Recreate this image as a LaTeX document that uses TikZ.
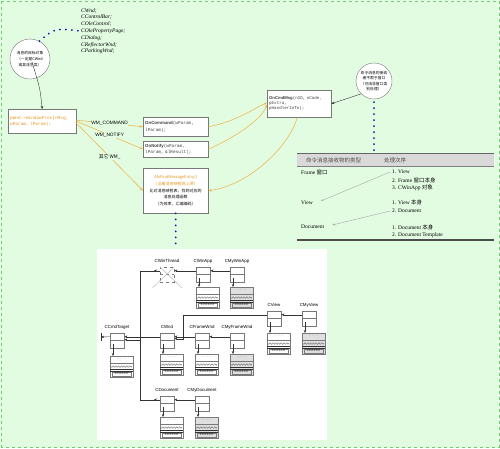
\documentclass[tikz,border=0pt]{standalone}
\usepackage{fontspec}
\setmainfont{Liberation Serif}
\setsansfont{Liberation Sans}
\setmonofont{Liberation Mono}
\newfontfamily\cjk{Noto Sans CJK SC}
\usepackage{xcolor}
\usepackage{tikz}
\usetikzlibrary{arrows.meta,positioning}
\definecolor{bggreen}{RGB}{226,252,226}
\definecolor{framegreen}{RGB}{120,200,120}
\definecolor{accentorange}{RGB}{230,150,30}
\definecolor{lineorange}{RGB}{240,184,80}
\definecolor{dotblue}{RGB}{10,20,170}
\definecolor{edgegray}{RGB}{120,120,120}

% data block below a class box
\newcommand\datablock[4]{%
  \node[datbox,fill=#4] (#1-data) at (#2,#3) {};
  \draw[edgegray] ([yshift=-7pt]#1-data.north west) -- ([yshift=-7pt]#1-data.north east);
  \node[font=\fontsize{3}{3}\selectfont,inner sep=0pt] (#1-dots) at (#2+11.5,#3+3) {. . . . . .};
  \draw[black!70,line width=0.3pt] plot[domain=0:21,samples=43] ({#2+1+\x},{#3+10.5+0.8*sin(\x*130)});
  \draw[black!80,line width=0.4pt] (#2,#3+13.6) -- ++(23,0) (#2,#3+14.8) -- ++(23,0);
  \draw[edgegray,line width=0.3pt] (#2+2,#3+16) rectangle ++(19,4);
  \node[font=\fontsize{2.8}{3}\sffamily,inner sep=0pt] (#1-nums) at (#2+11.5,#3+18) {0.0.0.0.0.0};
}
% class box, its name and its data block
\newcommand\mfcclass[6]{%
  \node[clsbox] (#1) at (#2,#3) {};
  \draw[edgegray] (#2,#3+7) -- ++(14,0);
  \node[clslab] (#1-lab) at (#2+7,#3-6) {#4};
  \datablock{#1}{#2}{#5}{#6}
  \draw[arr] ([xshift=3pt,yshift=4pt]#1.south west) -- ([xshift=3pt]#1-data.north west);
}

\begin{document}
\begin{tikzpicture}[x=1pt,y=-1pt,
  box/.style={rectangle,draw=edgegray,fill=white,anchor=north west,inner sep=2pt,
              text=black!75,font=\fontsize{4.4}{6.4}\ttfamily},
  bubble/.style={circle,draw=edgegray,fill=white,inner sep=0pt,align=center,
                 font=\fontsize{3.8}{5.6}\cjk},
  clsbox/.style={rectangle,draw=edgegray,fill=white,anchor=north west,
                 minimum width=14pt,minimum height=15pt,inner sep=0pt},
  datbox/.style={rectangle,draw=edgegray,anchor=north west,
                 minimum width=23pt,minimum height=21pt,inner sep=0pt},
  clslab/.style={font=\fontsize{4.4}{5}\sffamily,inner sep=0pt},
  cell/.style={anchor=west,inner sep=0pt,font=\fontsize{5.5}{6}\selectfont},
  wmlab/.style={font=\fontsize{4.8}{5}\sffamily,fill=bggreen,text=black,inner sep=0.4pt},
  arr/.style={-{Stealth[length=3pt,width=2.4pt]},black!80},
  oarr/.style={-{Stealth[length=3.4pt,width=2.8pt]},draw=lineorange,line width=0.6pt},
  bluedots/.style={dotblue,line width=2pt,line cap=round,dash pattern=on 0pt off 6pt},
  tarr/.style={-{Stealth[length=2.6pt,width=2pt]},gray!70}]
  \fill[bggreen] (0,0) rectangle (500,448);
  \draw[framegreen,dashed,line width=0.6pt] (1.2,1.2) rectangle (498.8,446.8);
  \useasboundingbox (0,0) rectangle (500,448);

  % message side
  \node[bubble,minimum size=40pt] (target) at (30,59) {消息的目标对象\\（一定是CWnd\\或其派生类）};
  \node[anchor=north west,inner sep=0pt,align=left,font=\fontsize{5.5}{6.8}\selectfont\itshape]
    (wndlist) at (81,8) {CWnd;\\CControlBar;\\COleControl;\\COlePropertyPage;\\CDialog;\\CReflectorWnd;\\CParkingWnd;};
  \draw[bluedots] (target.62) .. controls (55,28) .. (wndlist.west);
  \node[box,text width=64pt,minimum height=24pt,align=left,text=accentorange] (winproc) at (8,109)
    {pWnd->WindowProc(nMsg,\\wParam, lParam);};
  \draw[arr] ([xshift=2pt,yshift=-3pt]target.center) .. controls (40,88) .. (winproc.north);

  \node[box,text width=61pt,minimum height=19pt,align=left] (oncommand) at (143,117)
    {\textsf{\bfseries OnCommand}(wParam,\\lParam);};
  \node[box,text width=61pt,minimum height=16pt,align=left] (onnotify) at (143,141)
    {\textsf{\bfseries OnNotify}(wParam,\\lParam, \&lResult);};
  \node[box,text width=61pt,minimum height=45pt,align=center,text=black,font=\fontsize{4}{6.8}\cjk] (afx) at (143,168)
    {\textcolor{accentorange}{AfxFindMessageEntry()}\\\textcolor{accentorange}{（沿着消息映射网上溯）}\\比对消息映射表，找到对应的\\消息处理函数\\（为效率，汇编编码）};
  \node[box,text width=60pt,minimum height=27pt,align=left,font=\fontsize{4.2}{5.2}\ttfamily] (oncmdmsg) at (267,90)
    {\textsf{\bfseries OnCmdMsg}(nID, nCode,\\pExtra,\\pHandlerInfo);};

  \draw[oarr] ([yshift=1pt]winproc.east) -- node[wmlab]{WM\_COMMAND} (oncommand.west);
  \draw[oarr] (winproc.east) -- node[wmlab]{WM\_NOTIFY} (onnotify.west);
  \draw[oarr] ([yshift=-2pt]winproc.east) -- node[wmlab]{\cjk{其它} WM\_} (afx.west);
  \draw[oarr] (oncommand.east) .. controls (235,122) and (255,108) .. ([yshift=1pt]oncmdmsg.west);
  \draw[oarr] (onnotify.east) .. controls (240,135) and (262,118) .. ([yshift=-1pt]oncmdmsg.west);
  \draw[oarr] ([xshift=-2pt]oncmdmsg.south) .. controls (290,145) and (250,185) .. (afx.east);

  \node[bubble,minimum size=36pt] (router) at (374,81) {命令消息的接收\\者不限于窗口\\（可由非窗口类\\别处理）};
  \draw[arr] (router.225) -- (oncmdmsg.east);

  % routing table
  \node[fill=gray!30,anchor=north west,minimum width=197pt,minimum height=13pt,inner sep=0pt] (tablehead) at (297,153) {};
  \draw[black!60,line width=0.6pt] (tablehead.north west) -- (tablehead.north east);
  \draw[gray] (tablehead.south west) -- (tablehead.south east);
  \coordinate (tablefoot) at (297,239);
  \draw[black!70,line width=0.4pt] (tablefoot) -- ++(197,0) ([yshift=-1.5pt]tablefoot) -- ++(197,0);
  \draw[bluedots,shorten <=3pt] (router.south) -- (router.south |- tablehead.north);
  \node[cell,font=\fontsize{5.5}{6}\cjk,text=black!70] (headtype) at (306,160) {命令消息接收物的类型};
  \node[cell,font=\fontsize{5.5}{6}\cjk,text=black!70] (headorder) at (384,160) {处理次序};
  \node[cell] (tframe) at (301,172) {Frame \cjk{窗口}};
  \node[cell] (tord1) at (392,172) {1. View};
  \node[cell] (tord2) at (392,180) {2. Frame \cjk{窗口本身}};
  \node[cell] (tord3) at (392,188) {3. CWinApp \cjk{对象}};
  \node[cell] (tview) at (301,203) {View};
  \node[cell] (tord4) at (392,202) {1. View \cjk{本身}};
  \node[cell] (tord5) at (392,211) {2. Document};
  \node[cell] (tdoc) at (301,227) {Document};
  \node[cell] (tord6) at (392,227) {1. Document \cjk{本身}};
  \node[cell] (tord7) at (392,235) {2. Document Template};
  \draw[tarr] ([xshift=-2pt]tord1.west) -- ([xshift=8pt,yshift=2pt]tview.east);
  \draw[tarr] ([xshift=-2pt]tord5.west) -- ([xshift=8pt,yshift=2pt]tdoc.east);

  % class hierarchy
  \node[fill=white,anchor=north west,minimum width=230pt,minimum height=191pt,inner sep=0pt] (panel) at (97,249) {};
  \draw[bluedots] (afx.south) -- (afx.south |- panel.north);
  \node[clsbox,dashed,fill=none] (cwinthread) at (160,267) {};
  \draw[edgegray,dashed] (160,274) -- ++(14,0);
  \node[clslab] (cwinthread-lab) at (167,261) {CWinThread};
  \draw[gray!60] (cwinthread.north west) -- ++(22,21) (cwinthread.north east) -- ++(-22,21);
  \mfcclass{cwinapp}{196}{267}{CWinApp}{287}{white}
  \mfcclass{cmywinapp}{230}{267}{CMyWinApp}{287}{gray!25}
  \mfcclass{ccmdtarget}{110}{333}{CCmdTarget}{356}{white}
  \mfcclass{cwnd}{160}{333}{CWnd}{354}{white}
  \mfcclass{cframewnd}{195}{333}{CFrameWnd}{354}{white}
  \mfcclass{cmyframewnd}{230}{333}{CMyFrameWnd}{354}{gray!25}
  \mfcclass{cview}{267}{311}{CView}{333}{white}
  \mfcclass{cmyview}{302}{311}{CMyView}{333}{gray!25}
  \mfcclass{cdocument}{160}{396}{CDocument}{417}{white}
  \mfcclass{cmydocument}{195}{396}{CMyDocument}{417}{gray!25}
  \coordinate (cobject) at (101,337);

  \draw[arr] ([yshift=4pt]cmywinapp.west) -- ([yshift=4pt]cwinapp.east);
  \draw[arr] ([yshift=4pt]cwinapp.west) -- ([yshift=4pt]cwinthread.east);
  \draw[arr] ([yshift=4pt]cmyframewnd.west) -- ([yshift=4pt]cframewnd.east);
  \draw[arr] ([yshift=4pt]cframewnd.west) -- ([yshift=4pt]cwnd.east);
  \draw[arr] ([yshift=4pt]cmyview.west) -- ([yshift=4pt]cview.east);
  \draw[arr] ([yshift=4pt]cview.west) -| ([xshift=9pt,yshift=2pt]cwnd.east) -- ([yshift=2pt]cwnd.east);
  \draw[arr] ([yshift=4pt]cwnd.west) -- ([yshift=4pt]ccmdtarget.east);
  \draw[arr] ([yshift=4pt]cmydocument.west) -- ([yshift=4pt]cdocument.east);
  \draw[black!80] ([yshift=4pt]cwinthread.west) -- ++(-20,0) |- ([yshift=4pt]cdocument.west);
  \draw[arr] ([yshift=4pt]cwinthread.west) -- ++(-6,0);
  \draw[arr] ([yshift=4pt]cdocument.west) -- ++(-6,0);
  \draw[arr] ([xshift=16pt,yshift=1pt]ccmdtarget.east) -- ([yshift=1pt]ccmdtarget.east);
  \draw[arr] ([yshift=4pt]ccmdtarget.west) -- (cobject);
  \draw[black!80] ([yshift=4pt]cobject) -- ([yshift=-4pt]cobject);
\end{tikzpicture}
\end{document}
